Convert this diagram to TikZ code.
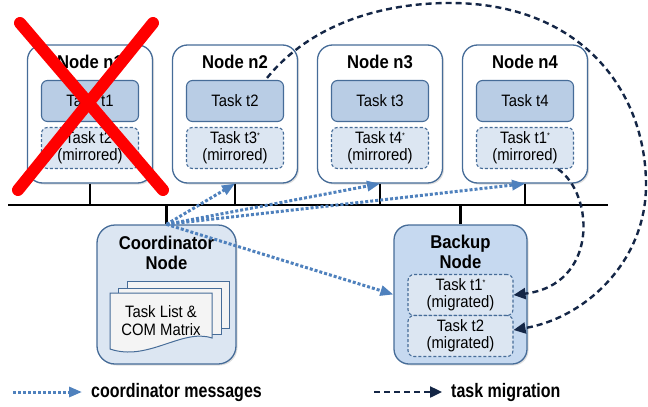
\documentclass[tikz,border=0pt]{standalone}
\usepackage{fontspec}
\setmainfont{Liberation Sans}[FakeStretch=0.9]
\newfontfamily\narrowsans{Liberation Sans}[FakeStretch=0.82]
\usetikzlibrary{arrows.meta,calc,shadows}
\definecolor{frameblue}{RGB}{70,108,152}
\definecolor{taskfill}{RGB}{185,205,229}
\definecolor{mirrfill}{RGB}{220,230,242}
\definecolor{backfill}{RGB}{198,217,240}
\definecolor{sheetfill}{RGB}{244,244,244}
\definecolor{msgblue}{RGB}{79,129,189}
\definecolor{mignavy}{RGB}{20,38,70}
\newcommand{\mstar}{\raisebox{5pt}{\fontsize{8}{8}\selectfont *}}

\begin{document}
\begin{tikzpicture}[x=1pt,y=-1pt,
    machine/.style={draw=frameblue,line width=1.3pt,rounded corners=15pt,fill=white,
        minimum width=125pt,minimum height=138pt,
        drop shadow={shadow xshift=1.5pt,shadow yshift=-1.5pt,opacity=0.25}},
    title/.style={font=\fontsize{18.5}{20}\selectfont\bfseries,align=center},
    task/.style={draw=frameblue,line width=1.1pt,fill=taskfill,rounded corners=6pt,
        minimum width=97pt,minimum height=41pt,font=\fontsize{16.5}{17}\selectfont},
    mirr/.style={task,fill=mirrfill,dash pattern=on 3pt off 2pt,align=center},
    bus/.style={line width=2.5pt,black},
    cross/.style={red,line width=12pt,line cap=round},
    sheet/.style={draw=frameblue,line width=1pt,fill=sheetfill},
    msg/.style={draw=msgblue,line width=3pt,dash pattern=on 3pt off 2pt,
        -{Triangle[length=13pt,width=10pt,fill=msgblue]}},
    mig/.style={draw=mignavy,line width=2.4pt,dash pattern=on 6pt off 4pt,
        -{Triangle[length=12pt,width=11pt,fill=mignavy]}},
    legend/.style={font=\fontsize{19.5}{20}\selectfont\narrowsans\bfseries,anchor=west,inner xsep=9pt}]
\useasboundingbox (0,0) rectangle (648,407);

% computing nodes
\node[machine] (n1) at (90,114) {};
\node[machine] (n2) at (235,114) {};
\node[machine] (n3) at (380,114) {};
\node[machine] (n4) at (525,114) {};
\node[title] (n1title) at (90,62) {Node n1};
\node[title] (n2title) at (235,62) {Node n2};
\node[title] (n3title) at (380,62) {Node n3};
\node[title] (n4title) at (525,62) {Node n4};
\node[task] (t1) at (90,101) {Task t1};
\node[task] (t2) at (235,101) {Task t2};
\node[task] (t3) at (380,101) {Task t3};
\node[task] (t4) at (525,101) {Task t4};
\node[mirr] (m1) at (90,148) {Task t2\mstar\\(mirrored)};
\node[mirr] (m2) at (235,148) {Task t3\mstar\\(mirrored)};
\node[mirr] (m3) at (380,148) {Task t4\mstar\\(mirrored)};
\node[mirr] (m4) at (525,148) {Task t1\mstar\\(mirrored)};

% coordinator and backup
\node[machine,fill=mirrfill,rounded corners=18pt,minimum width=139pt,minimum height=139pt] (coord) at (166.5,294.5) {};
\node[title] (coordtitle) at (166.5,253) {Coordinator\\Node};
\draw[sheet] (127,281) rectangle (229,328);
\draw[sheet] (118,288) rectangle (221,334);
\draw[sheet] (110,293) -- (212,293) -- (212,338) .. controls (182,328) and (148,362) .. (110,349) -- cycle;
\node[font=\fontsize{16.5}{18}\selectfont,align=center] (tasklist) at (161,321) {Task List \&\\COM Matrix};
\node[machine,fill=backfill,minimum width=133pt,minimum height=139pt] (backup) at (460.5,294.5) {};
\node[title] (backuptitle) at (460.5,252) {Backup\\Node};
\node[mirr,minimum width=105pt] (g1) at (460.5,295) {Task t1\mstar\\(migrated)};
\node[mirr,minimum width=105pt] (g2) at (460.5,336) {Task t2\\(migrated)};

% network
\coordinate (busL) at (8,205);
\coordinate (busR) at (608,205);
\draw[bus] (busL) -- (busR);
\draw[bus] (n1.south) -- (n1.south |- busL);
\draw[bus] (n2.south) -- (n2.south |- busL);
\draw[bus] (n3.south) -- (n3.south |- busL);
\draw[bus] (n4.south) -- (n4.south |- busL);
\draw[bus] (coord.north) -- (coord.north |- busL);
\draw[bus] (backup.north) -- (backup.north |- busL);

% failed node
\draw[cross] (20,23) -- (163,190);
\draw[cross] (153,23) -- (18,190);

% coordinator messages
\draw[msg] (coord.north) -- (n2.south);
\draw[msg] (coord.north) -- (n3.south);
\draw[msg] (coord.north) -- (n4.south);
\draw[msg] (coord.north) -- (backup.west);

% task migration
\draw[mig] ($(m4.south)+(33,0)$) .. controls (595,195) and (598,285) .. (g1.east);
\draw[mig] ($(t2.north east)+(-17,-2)$) .. controls (310,25) and (380,3) .. (450,3)
    .. controls (580,3) and (646,90) .. (646,185)
    .. controls (646,262) and (585,318) .. ($(g2.east)+(0,-6)$);

% legend
\coordinate (legA) at (13,392);
\node[legend] (legmsg) at (82,392) {coordinator messages};
\draw[msg] (legA) -- (legmsg.west);
\coordinate (legB) at (374,392);
\node[legend] (legmig) at (442,392) {task migration};
\draw[mig] (legB) -- (legmig.west);
\end{tikzpicture}
\end{document}
